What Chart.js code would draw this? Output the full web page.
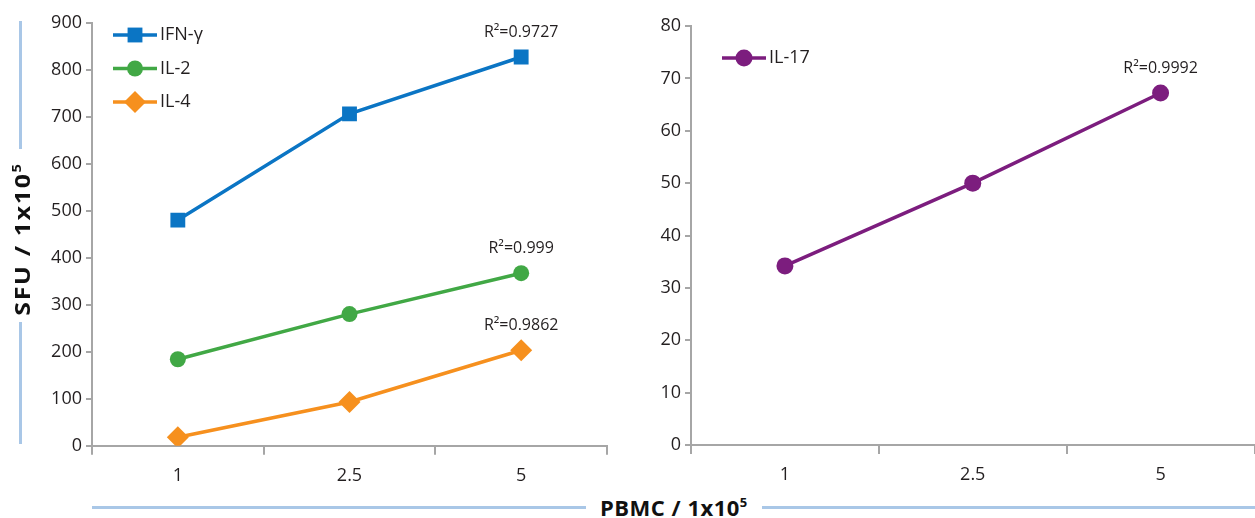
<!DOCTYPE html>
<html>
<head>
<meta charset="utf-8">
<script src="https://cdn.jsdelivr.net/npm/chart.js@4/dist/chart.umd.min.js"></script>
<style>
  html,body{margin:0;padding:0;background:#fff;}
  body{width:1255px;height:518px;position:relative;overflow:hidden;font-family:"Open Sans",sans-serif;color:#231f20;}
  .cv{position:absolute;top:0;}
  .bl{position:absolute;background:#a9c7e7;}
  .ttl{position:absolute;font-weight:bold;font-size:22px;white-space:nowrap;color:#111;line-height:1;}
  .ttl sup{font-size:13px;vertical-align:9px;line-height:0;}
</style>
</head>
<body>
<canvas id="c1" class="cv" width="625" height="490" style="left:0"></canvas>
<canvas id="c2" class="cv" width="633" height="490" style="left:630px"></canvas>

<div class="bl" style="left:19px;top:21px;width:3px;height:128px"></div>
<div class="bl" style="left:19px;top:322px;width:3px;height:122px"></div>
<div class="ttl" id="ytitle" style="left:21px;top:239px;letter-spacing:1.5px;transform:translate(-50%,-50%) rotate(-90deg) scaleX(1.13);">SFU / 1x10<sup>5</sup></div>

<div class="bl" style="left:92px;top:506px;width:494px;height:3px"></div>
<div class="bl" style="left:762px;top:506px;width:493px;height:3px"></div>
<div class="ttl" style="left:600px;top:496px;letter-spacing:0.5px;">PBMC / 1x10<sup>5</sup></div>

<script>
// ---- data ----
const categories = ["1", "2.5", "5"];
const ifnGamma = [480, 706, 827];
const il2 = [184, 280, 367];
const il4 = [18, 93, 203];
const il17 = [34.2, 50, 67.2];
const leftSeriesNames = ["IFN-γ", "IL-2", "IL-4"];
const rightSeriesNames = ["IL-17"];
const leftR2 = ["R²=0.9727", "R²=0.999", "R²=0.9862"];
const rightR2 = ["R²=0.9992"];
const leftYTicks = [0, 100, 200, 300, 400, 500, 600, 700, 800, 900];
const rightYTicks = [0, 10, 20, 30, 40, 50, 60, 70, 80];

const FONT = "'Open Sans', sans-serif";
const AXIS = "#a6a6a6";
const TXT = "#231f20";

const legendPlugin = {
  id: 'customLegend',
  afterDraw(chart, args, opts) {
    const ctx = chart.ctx;
    ctx.save();
    chart.data.datasets.forEach((ds, i) => {
      const y = opts.y + i * opts.dy;
      ctx.strokeStyle = ds.borderColor;
      ctx.lineWidth = 3.5;
      ctx.beginPath();
      ctx.moveTo(opts.x, y);
      ctx.lineTo(opts.x + opts.len, y);
      ctx.stroke();
      ctx.fillStyle = ds.borderColor;
      Chart.helpers.drawPoint(ctx, {pointStyle: ds.pointStyle, radius: ds.pointRadius, rotation: 0, borderWidth: 0}, opts.x + opts.len / 2, y);
      ctx.fillStyle = TXT;
      ctx.font = "18px " + FONT;
      ctx.textBaseline = 'middle';
      ctx.textAlign = 'left';
      ctx.fillText(ds.label, opts.x + opts.len + 3, y);
    });
    ctx.restore();
  }
};

const r2Plugin = {
  id: 'r2labels',
  afterDatasetsDraw(chart, args, opts) {
    const ctx = chart.ctx;
    ctx.save();
    ctx.font = "16px " + FONT;
    ctx.fillStyle = TXT;
    ctx.textAlign = 'center';
    ctx.textBaseline = 'middle';
    chart.data.datasets.forEach((ds, i) => {
      const meta = chart.getDatasetMeta(i);
      const pt = meta.data[meta.data.length - 1];
      ctx.fillText(opts.labels[i], pt.x, pt.y - 25);
    });
    ctx.restore();
  }
};

function makeOptions(yMax, yStep, yWidth, padding, legendPos, r2labels, yTicks) {
  return {
    responsive: false,
    animation: false,
    layout: {padding: padding},
    plugins: {
      legend: {display: false},
      tooltip: {enabled: false},
      customLegend: legendPos,
      r2labels: {labels: r2labels}
    },
    scales: {
      x: {
        type: 'category',
        offset: true,
        border: {color: AXIS, width: 2},
        grid: {offset: true, drawOnChartArea: false, color: AXIS, lineWidth: 2, tickLength: 9},
        ticks: {color: TXT, font: {family: FONT, size: 18}, padding: 10},
        afterFit(s) { s.height = 40; }
      },
      y: {
        min: 0, max: yMax,
        afterBuildTicks(s) { s.ticks = yTicks.map(v => ({value: v})); },
        border: {color: AXIS, width: 2},
        grid: {drawOnChartArea: false, color: AXIS, lineWidth: 2, tickLength: 6},
        ticks: {color: TXT, font: {family: FONT, size: 18}, padding: 4, stepSize: yStep},
        afterFit(s) { s.width = yWidth; }
      }
    }
  };
}

function ds(label, data, color, style, r) {
  return {label, data, borderColor: color, backgroundColor: color, borderWidth: 3.5,
    pointStyle: style, pointRadius: r, pointBorderWidth: 0, pointBackgroundColor: color, tension: 0};
}

new Chart(document.getElementById('c1'), {
  type: 'line',
  data: {
    labels: categories,
    datasets: [
      ds(leftSeriesNames[0], ifnGamma, '#0b75c4', 'rect', 10.5),
      ds(leftSeriesNames[1], il2, '#41a845', 'circle', 8),
      ds(leftSeriesNames[2], il4, '#f6901e', 'rectRot', 11)
    ]
  },
  options: makeOptions(900, 100, 92, {top: 22.7, right: 18, bottom: 4.3, left: 0},
    {x: 113, y: 35, dy: 33.5, len: 44}, leftR2, leftYTicks),
  plugins: [legendPlugin, r2Plugin]
});

new Chart(document.getElementById('c2'), {
  type: 'line',
  data: {
    labels: categories,
    datasets: [
      ds(rightSeriesNames[0], il17, '#7c1d7e', 'circle', 8.5)
    ]
  },
  options: makeOptions(80, 10, 61, {top: 26, right: 1, bottom: 5, left: 0},
    {x: 92, y: 58, dy: 33, len: 44}, rightR2, rightYTicks),
  plugins: [legendPlugin, r2Plugin]
});
</script>
</body>
</html>
